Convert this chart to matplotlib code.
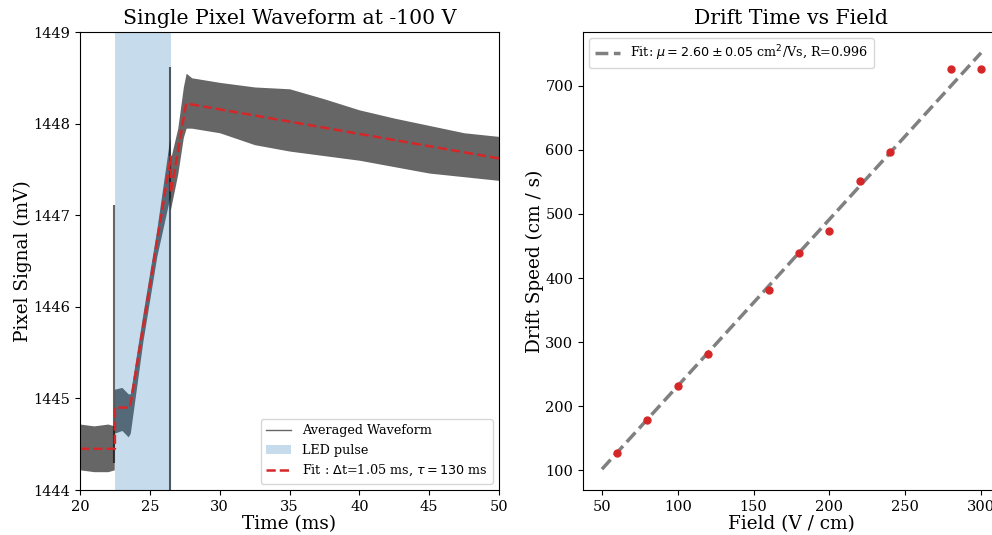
import numpy as np
import matplotlib
matplotlib.use("Agg")
import matplotlib.pyplot as plt
from matplotlib.lines import Line2D

plt.rcParams['font.family'] = 'serif'

# averaged waveform, read as a band (lower / upper edge) in mV
wave_t = [20.0, 21.0, 22.0, 22.45, 22.46, 23.0, 23.45, 23.6, 24.5, 25.5, 26.44,
          26.46, 27.0, 27.4, 27.6, 28.0, 30.0, 32.5, 35.0, 37.5, 40.0, 42.5,
          45.0, 47.5, 50.0]
wave_lo = [1444.22, 1444.20, 1444.20, 1444.22, 1444.62, 1444.65, 1444.58, 1444.62,
           1445.62, 1446.55, 1447.20, 1447.05, 1447.45, 1447.85, 1447.95, 1447.95,
           1447.90, 1447.77, 1447.70, 1447.65, 1447.60, 1447.53, 1447.46, 1447.42,
           1447.38]
wave_hi = [1444.72, 1444.70, 1444.72, 1444.70, 1445.10, 1445.12, 1445.05, 1445.05,
           1445.92, 1446.85, 1447.85, 1447.60, 1447.95, 1448.40, 1448.55, 1448.50,
           1448.45, 1448.40, 1448.38, 1448.27, 1448.15, 1448.06, 1447.98, 1447.90,
           1447.86]
# single-sample spikes
spike_t = [22.45, 26.45]
spike_lo = [1444.30, 1444.00]
spike_hi = [1447.11, 1448.62]

# fit curve
fit_t = [20.0, 22.5, 22.5, 23.58, 26.5, 26.5, 27.6, 50.0]
fit_v = [1444.45, 1444.45, 1444.90, 1444.90, 1447.64, 1447.24, 1448.22, 1447.62]

led_on, led_off = 22.5, 26.5

# drift speed vs field
field = [60, 80, 100, 120, 160, 180, 200, 220, 240, 280, 300]
speed = [127, 179, 232, 282, 382, 439, 473, 552, 597, 727, 727]
line_field = [50, 300]
line_speed = [101.6, 751.6]

fig = plt.figure(figsize=(9.92, 5.35), dpi=100)
ax1 = fig.add_axes([80 / 992, 45 / 535, 419 / 992, 458 / 535])
ax2 = fig.add_axes([583 / 992, 45 / 535, 417 / 992, 458 / 535])

ax1.fill_between(wave_t, wave_lo, wave_hi, color='k', alpha=0.6, linewidth=0)
ax1.vlines(spike_t, spike_lo, spike_hi, color='k', alpha=0.6, lw=1.5)
ax1.axvspan(led_on, led_off, color='tab:blue', alpha=0.25, lw=0)
ax1.plot(fit_t, fit_v, '--', color='tab:red', lw=1.8)
ax1.set_xlim(20, 50)
ax1.set_ylim(1444, 1449)
ax1.set_title("Single Pixel Waveform at -100 V", fontsize=14.7)
ax1.set_xlabel("Time (ms)", fontsize=13.3, labelpad=1)
ax1.set_ylabel("Pixel Signal (mV)", fontsize=13.3, labelpad=1)
ax1.tick_params(labelsize=10.5)
ax1.ticklabel_format(useOffset=False)
handles = [Line2D([], [], color='k', alpha=0.6, lw=1),
           plt.Rectangle((0, 0), 1, 1, color='tab:blue', alpha=0.25, lw=0),
           Line2D([], [], color='tab:red', ls='--', lw=1.8)]
labels = ["Averaged Waveform", "LED pulse",
          r"Fit : $\Delta$t=1.05 ms, $\tau = 130$ ms"]
ax1.legend(handles, labels, loc='lower right', fontsize=9.2)

ax2.plot(line_field, line_speed, '--', color='gray', lw=2.5,
         label=r"Fit: $\mu = 2.60 \pm 0.05$ cm$^2$/Vs, R=0.996")
ax2.plot(field, speed, 'o', color='tab:red', ms=5)
ax2.set_title("Drift Time vs Field", fontsize=14.7)
ax2.set_xlabel("Field (V / cm)", fontsize=13.3, labelpad=1)
ax2.set_ylabel("Drift Speed (cm / s)", fontsize=13.3, labelpad=1)
ax2.tick_params(labelsize=10.5)
ax2.legend(loc='upper left', fontsize=9.2)

fig.savefig("out.png", dpi=100)
